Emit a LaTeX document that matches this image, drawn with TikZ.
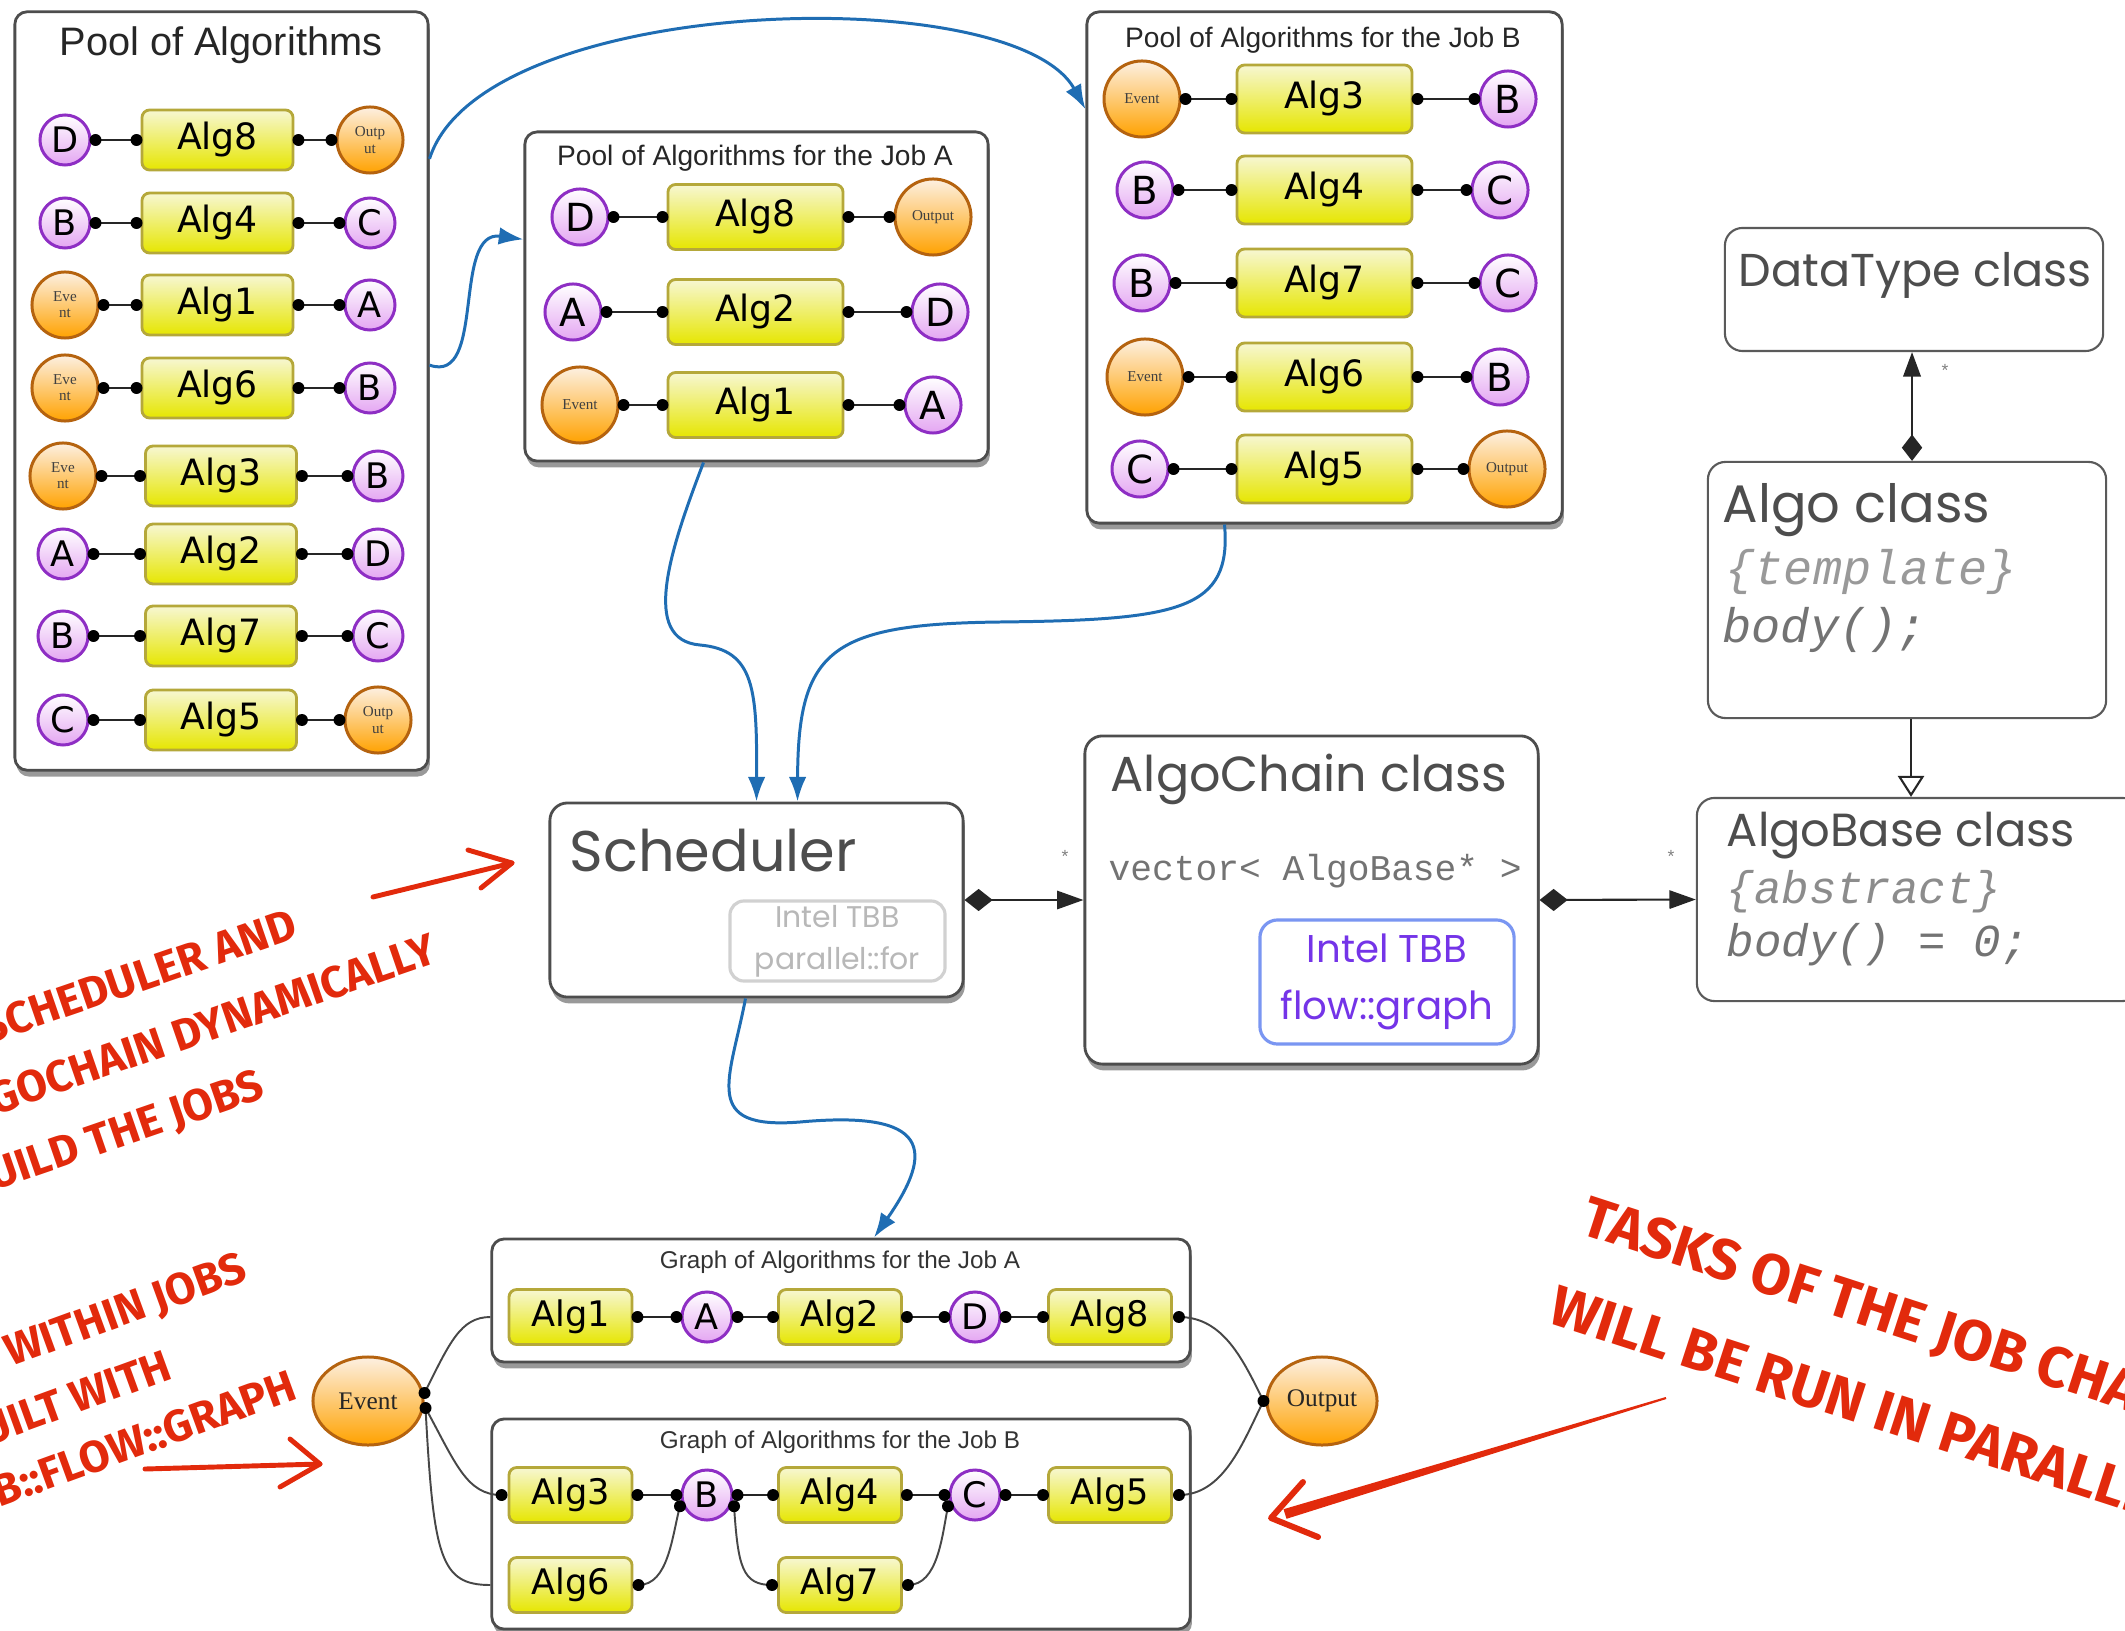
\documentclass[tikz,border=0pt]{standalone}
\usepackage{fontspec}
\setmainfont{Liberation Sans}
\newfontfamily\dejavu{DejaVu Sans}
\newfontfamily\lserif{Liberation Serif}
\newfontfamily\gothic{Poppins}
\newfontfamily\lmono{Liberation Mono}
\newfontfamily\hand{Fira Sans}
\usetikzlibrary{calc,shapes.geometric,arrows.meta,shadows}

\definecolor{boxgray}{HTML}{4D4D4D}
\definecolor{clsgray}{HTML}{5A5A5A}
\definecolor{algline}{HTML}{B5A83A}
\definecolor{algtop}{HTML}{F7F7D2}
\definecolor{algbot}{HTML}{E6E600}
\definecolor{purpline}{HTML}{8E2EC4}
\definecolor{lilac}{HTML}{E4A6F2}
\definecolor{orline}{HTML}{B5630F}
\definecolor{ortop}{HTML}{FDF0E2}
\definecolor{orbot}{HTML}{FFA200}
\definecolor{flowblue}{HTML}{1F6DB3}
\definecolor{tbbline}{HTML}{7A96F2}
\definecolor{tbbtext}{HTML}{7434E8}
\definecolor{notered}{HTML}{E22A0C}
\definecolor{texgray}{HTML}{4D4D4D}

% straight link between two nodes, with a black dot at each end
\newcommand\dotlink[2]{%
  \path ($(#1.east)+(4,0)$) coordinate (la) ($(#2.west)+(-4,0)$) coordinate (lb);
  \draw[stub] (la) -- (lb);
  \fill[black] (la) circle[radius=1.7pt] (lb) circle[radius=1.7pt];}

\tikzset{
  stub/.style={draw=black!85, line width=0.55pt},
  gconn/.style={draw=black!72, line width=0.55pt},
  panel/.style={draw=boxgray, line width=0.8pt, fill=white, rounded corners=3.5pt, inner sep=0pt,
     drop shadow={shadow xshift=0.5pt, shadow yshift=-1.8pt, opacity=0.4, fill=black}},
  classbox/.style={draw=clsgray, line width=0.6pt, fill=white, rounded corners=5pt, inner sep=0pt},
  lbl/.style={inner sep=0pt},
  alg/.style={draw=algline, line width=0.8pt, top color=algtop, bottom color=algbot,
     rounded corners=2.2pt, inner sep=0pt, font=\dejavu\fontsize{10.3}{12}\selectfont},
  algL/.style={alg, minimum width=1.51cm, minimum height=0.60cm},
  algA/.style={alg, minimum width=1.75cm, minimum height=0.65cm},
  algB/.style={alg, minimum width=1.75cm, minimum height=0.68cm},
  algG/.style={alg, minimum width=1.23cm, minimum height=0.55cm, font=\dejavu\fontsize{10}{12}\selectfont},
  dc/.style={circle, draw=purpline, line width=0.85pt, top color=white, bottom color=lilac,
     inner sep=0pt, font=\dejavu\fontsize{10}{11}\selectfont},
  lc/.style={dc, minimum size=0.50cm},
  lcA/.style={dc, minimum size=0.56cm, font=\dejavu\fontsize{11}{12}\selectfont},
  lcG/.style={dc, minimum size=0.50cm},
  oc/.style={circle, draw=orline, line width=0.85pt, top color=ortop, bottom color=orbot,
     inner sep=0pt, align=center, text=black!75, font=\lserif\fontsize{4.3}{4.6}\selectfont},
  ocL/.style={oc, minimum size=0.66cm},
  ocA/.style={oc, minimum size=0.76cm},
  ev/.style={ellipse, draw=orline, line width=0.85pt, top color=ortop, bottom color=orbot,
     inner sep=0pt, minimum width=1.10cm, minimum height=0.88cm, text=black!85,
     font=\lserif\fontsize{7.2}{8}\selectfont},
  flow/.style={draw=flowblue, line width=0.85pt, -{Latex[length=7pt,width=5pt]}},
  uml/.style={draw=black!85, line width=0.6pt},
  owns/.style={uml, {Diamond[length=8pt,width=6.3pt]}-{Triangle[length=7.5pt,width=5.2pt]}},
  mult/.style={inner sep=0pt, text=black!50, font=\fontsize{5}{6}\selectfont},
  note/.style={inner sep=0pt, text=notered, font=\hand\bfseries\fontsize{12.6}{15}\selectfont},
  bignote/.style={note, font=\hand\bfseries\fontsize{16.3}{19}\selectfont},
  redpen/.style={draw=notered, line width=1.4pt, line cap=round, line join=round},
}

\begin{document}
\begin{tikzpicture}[x=0.01cm, y=-0.01cm]
\useasboundingbox (0,0) rectangle (2125,1631);
\clip (0,0) rectangle (2125,1631);

% ---------------- pool of all algorithms ----------------
\node[panel, minimum width=4.13cm, minimum height=7.58cm] (pool) at (221.5,391) {};
\node[lbl, text=black!85, font=\fontsize{11.3}{13}\selectfont] (poolT) at (221,45) {Pool of Algorithms};
\foreach \n/\y/\ls/\lx/\lt/\ax/\at/\rs/\rx/\rt in {
  1/140/lc/65/D/217.5/Alg8/ocL/370/{Outp\\ut},
  2/223/lc/65/B/217.5/Alg4/lc/370/C,
  3/305/ocL/65/{Eve\\nt}/217.5/Alg1/lc/370/A,
  4/388/ocL/65/{Eve\\nt}/217.5/Alg6/lc/370/B,
  5/476/ocL/63/{Eve\\nt}/221/Alg3/lc/378/B,
  6/554/lc/63/A/221/Alg2/lc/378/D,
  7/636/lc/63/B/221/Alg7/lc/378/C,
  8/720/lc/63/C/221/Alg5/ocL/378/{Outp\\ut}}{
  \node[\ls] (pl\n) at (\lx,\y) {\lt};
  \node[algL] (pa\n) at (\ax,\y) {\at};
  \node[\rs] (pr\n) at (\rx,\y) {\rt};
  \dotlink{pl\n}{pa\n}
  \dotlink{pa\n}{pr\n}
}

% ---------------- pool for job A ----------------
\node[panel, minimum width=4.63cm, minimum height=3.29cm] (jobA) at (756.5,296.5) {};
\node[lbl, text=black!85, font=\fontsize{8}{10}\selectfont] (jobAT) at (755,158) {Pool of Algorithms for the Job A};
\foreach \n/\y/\ls/\lx/\lt/\at/\rs/\rx/\rt in {
  1/217/lcA/580/D/Alg8/ocA/933/Output,
  2/312/lcA/573/A/Alg2/lcA/940/D,
  3/405/ocA/580/Event/Alg1/lcA/933/A}{
  \node[\ls] (al\n) at (\lx,\y) {\lt};
  \node[algA] (aa\n) at (755.5,\y) {\at};
  \node[\rs] (ar\n) at (\rx,\y) {\rt};
  \dotlink{al\n}{aa\n}
  \dotlink{aa\n}{ar\n}
}

% ---------------- pool for job B ----------------
\node[panel, minimum width=4.75cm, minimum height=5.11cm] (jobB) at (1324.5,267.5) {};
\node[lbl, text=black!85, font=\fontsize{8}{10}\selectfont] (jobBT) at (1323,40) {Pool of Algorithms for the Job B};
\foreach \n/\y/\ls/\lx/\lt/\at/\rs/\rx/\rt in {
  1/99/ocA/1142/Event/Alg3/lcA/1508/B,
  2/190/lcA/1145/B/Alg4/lcA/1500/C,
  3/283/lcA/1142/B/Alg7/lcA/1508/C,
  4/377/ocA/1145/Event/Alg6/lcA/1500/B,
  5/469/lcA/1140/C/Alg5/ocA/1507/Output}{
  \node[\ls] (bl\n) at (\lx,\y) {\lt};
  \node[algB] (ba\n) at (1324.5,\y) {\at};
  \node[\rs] (br\n) at (\rx,\y) {\rt};
  \dotlink{bl\n}{ba\n}
  \dotlink{ba\n}{br\n}
}

% ---------------- scheduler and classes ----------------
\node[panel, rounded corners=5pt, minimum width=4.13cm, minimum height=1.94cm] (sched) at (756.5,900) {};
\node[lbl, anchor=west, text=texgray, font=\gothic\fontsize{16.3}{19}\selectfont] (schedT) at (569,851) {Scheduler};
\node[draw=black!18, line width=0.9pt, rounded corners=4pt, minimum width=2.15cm, minimum height=0.80cm,
      inner sep=0pt, align=center, text=black!28, font=\gothic\fontsize{8.5}{12}\selectfont] (tbbfor) at (837.5,941)
      {Intel TBB\\parallel::for};

\node[panel, rounded corners=5pt, minimum width=4.53cm, minimum height=3.28cm] (chain) at (1311.5,900) {};
\node[lbl, anchor=west, text=texgray, font=\gothic\fontsize{14}{16}\selectfont] (chainT) at (1110,779) {AlgoChain class};
\node[lbl, anchor=west, text=black!55, font=\lmono\fontsize{10.3}{12}\selectfont] (chainV) at (1108,871) {vector< AlgoBase* >};
\node[draw=tbbline, line width=0.9pt, rounded corners=5pt, minimum width=2.54cm, minimum height=1.24cm,
      inner sep=0pt, align=center, text=tbbtext, font=\gothic\fontsize{11}{16}\selectfont] (tbbflow) at (1387,982)
      {Intel TBB\\flow::graph};

\node[classbox, minimum width=4.43cm, minimum height=2.03cm] (abase) at (1918.5,899.5) {};
\node[lbl, anchor=west, text=texgray, font=\gothic\fontsize{13.2}{15}\selectfont] (abaseT) at (1726,836) {AlgoBase class};
\node[lbl, anchor=west, text=black!45, font=\lmono\itshape\fontsize{13}{15}\selectfont] (abaseA) at (1726,892) {\{abstract\}};
\node[lbl, anchor=west, text=black!55, font=\lmono\itshape\fontsize{13}{15}\selectfont] (abaseB) at (1726,945) {body() = 0;};

\node[classbox, minimum width=3.98cm, minimum height=2.56cm] (algo) at (1907,590) {};
\node[lbl, anchor=west, text=texgray, font=\gothic\fontsize{15}{17}\selectfont] (algoT) at (1722,510) {Algo class};
\node[lbl, anchor=west, text=black!40, font=\lmono\itshape\fontsize{13.8}{16}\selectfont] (algoA) at (1725,572) {\{template\}};
\node[lbl, anchor=west, text=black!55, font=\lmono\itshape\fontsize{13.8}{16}\selectfont] (algoB) at (1722,630) {body();};

\node[classbox, minimum width=3.78cm, minimum height=1.23cm] (dtype) at (1914,289.5) {};
\node[lbl, anchor=west, text=texgray, font=\gothic\fontsize{13.1}{16}\selectfont] (dtypeT) at (1738,275) {DataType class};

% composition and inheritance links
\draw[owns] (sched.east) -- (chain.west);
\draw[owns] (chain.east) -- (abase.west);
\coordinate (aup) at ($(algo.north)+(5,0)$);
\draw[uml, {Diamond[length=7.5pt,width=5.8pt]}-{Triangle[length=7pt,width=5pt]}] (aup) -- (aup |- dtype.south);
\coordinate (adn) at ($(algo.south)+(4,0)$);
\draw[uml, -{Triangle[open,length=6pt,width=7.5pt]}] (adn) -- (adn |- abase.north);
\node[mult] (m1) at (1065,856) {*};
\node[mult] (m2) at (1671,856) {*};
\node[mult] (m3) at (1945,370) {*};

% ---------------- job graphs ----------------
\node[panel, minimum width=6.98cm, minimum height=1.23cm] (gA) at (841,1300.5) {};
\node[lbl, text=black!80, font=\fontsize{6.9}{8}\selectfont] (gAT) at (840,1262) {Graph of Algorithms for the Job A};
\node[algG] (g1) at (570.5,1317) {Alg1};
\node[lcG] (gAa) at (707,1317) {A};
\node[algG] (g2) at (840,1317) {Alg2};
\node[lcG] (gAd) at (975,1317) {D};
\node[algG] (g8) at (1110,1317) {Alg8};
\dotlink{g1}{gAa}
\dotlink{gAa}{g2}
\dotlink{g2}{gAd}
\dotlink{gAd}{g8}

\node[panel, minimum width=6.98cm, minimum height=2.10cm] (gB) at (841,1524) {};
\node[lbl, text=black!80, font=\fontsize{6.9}{8}\selectfont] (gBT) at (840,1442) {Graph of Algorithms for the Job B};
\node[algG] (g3) at (570.5,1495) {Alg3};
\node[lcG] (gBb) at (707,1495) {B};
\node[algG] (g4) at (840,1495) {Alg4};
\node[lcG] (gBc) at (975,1495) {C};
\node[algG] (g5) at (1110,1495) {Alg5};
\node[algG] (g6) at (570.5,1585) {Alg6};
\node[algG] (g7) at (840,1585) {Alg7};
\dotlink{g3}{gBb}
\dotlink{gBb}{g4}
\dotlink{g4}{gBc}
\dotlink{gBc}{g5}

\coordinate (g6r) at ($(g6.east)+(5,0)$);
\coordinate (bIn) at ($(gBb.205)+(-3,0)$);
\coordinate (bOut) at ($(gBb.335)+(3,0)$);
\coordinate (g7l) at ($(g7.west)+(-5,0)$);
\coordinate (g7r) at ($(g7.east)+(5,0)$);
\coordinate (cIn) at ($(gBc.205)+(-3,0)$);
\draw[gconn] (g6r) .. controls +(30,0) and +(-8,30) .. (bIn);
\draw[gconn] (bOut) .. controls +(4,60) and +(-30,0) .. (g7l);
\draw[gconn] (g7r) .. controls +(30,0) and +(-6,30) .. (cIn);
\fill[black] (g6r) circle[radius=1.7pt] (bIn) circle[radius=1.7pt] (bOut) circle[radius=1.7pt]
             (g7l) circle[radius=1.7pt] (g7r) circle[radius=1.7pt] (cIn) circle[radius=1.7pt];

\node[ev] (ev) at (368,1401) {Event};
\node[ev] (out) at (1322,1401) {Output};
\coordinate (e1) at ($(ev.east)+(0,-8)$);
\coordinate (e2) at ($(ev.east)+(1,7)$);
\coordinate (gAin) at (gA.west |- g1.west);
\coordinate (gBin) at (gB.west |- g6.west);
\coordinate (g3l) at ($(g3.west)+(-6,0)$);
\coordinate (g8r) at ($(g8.east)+(6,0)$);
\coordinate (g5r) at ($(g5.east)+(6,0)$);
\coordinate (ol) at ($(out.west)+(-2,0)$);
\draw[gconn] (e1) .. controls +(25,-50) and +(-30,0) .. (gAin);
\draw[gconn] (e2) .. controls +(30,55) and +(-35,0) .. (g3l);
\draw[gconn] (e2) .. controls +(8,150) and +(-50,0) .. (gBin);
\draw[gconn] (g8r) .. controls +(45,0) and +(-20,-40) .. (ol);
\draw[gconn] (g5r) .. controls +(45,0) and +(-20,40) .. (ol);
\fill[black] (e1) circle[radius=1.7pt] (e2) circle[radius=1.7pt] (g3l) circle[radius=1.7pt]
             (g8r) circle[radius=1.7pt] (g5r) circle[radius=1.7pt] (ol) circle[radius=1.7pt];

% ---------------- data flow (blue) ----------------
\coordinate (f1a) at ($(pool.north east)!0.195!(pool.south east)$);
\coordinate (f1b) at ($(jobB.north west)!0.192!(jobB.south west)$);
\draw[flow] (f1a) .. controls +(52,-165) and +(-72,-130) .. (f1b);
\coordinate (f2a) at ($(pool.north east)!0.466!(pool.south east)$);
\coordinate (f2b) at ($(jobA.north west)!0.328!(jobA.south west)$);
\draw[flow] (f2a) .. controls +(57,20) and +(-72,-10) .. (f2b);
\coordinate (f3a) at ($(jobA.south)+(-53,0)$);
\coordinate (f3m) at (700,645);
\draw[flow] (f3a) .. controls (670,550) and (640,640) .. (f3m) .. controls (755,650) and (757,690) .. (sched.north);
\coordinate (f4a) at ($(jobB.south)+(-100,0)$);
\coordinate (f4m) at (1000,622);
\coordinate (f4b) at ($(sched.north)+(41,0)$);
\draw[flow] (f4a) .. controls (1232,610) and (1180,620) .. (f4m) .. controls (830,624) and (798,650) .. (f4b);
\coordinate (f5a) at ($(sched.south)+(-11,0)$);
\coordinate (f5m) at (800,1122);
\coordinate (f5b) at ($(gA.north)+(33,0)$);
\draw[flow] (f5a) .. controls (730,1080) and (700,1130) .. (f5m) .. controls (930,1110) and (935,1150) .. (f5b);

% ---------------- handwritten notes ----------------
\node[note, rotate=19, anchor=base east] (n1a) at (300,937) {SCHEDULER AND};
\node[note, rotate=19, anchor=base east] (n1b) at (440,962) {ALGOCHAIN DYNAMICALLY};
\node[note, rotate=19, anchor=base east] (n1c) at (267,1097) {BUILD THE JOBS};
\node[note, rotate=20, anchor=base east] (n2a) at (250,1280) {WITHIN JOBS};
\node[note, rotate=20, anchor=base east] (n2b) at (175,1378) {BUILT WITH};
\node[note, rotate=20, anchor=base east] (n2c) at (300,1398) {TBB::FLOW::GRAPH};
\node[bignote, rotate=-18, anchor=base west] (n3a) at (1578,1233) {TASKS OF THE JOB CHAIN};
\node[bignote, rotate=-18, anchor=base west] (n3b) at (1546,1322) {WILL BE RUN IN PARALLEL};

\coordinate (r1s) at (373,897);
\coordinate (r1t) at (512,863);
\draw[redpen] (r1s) -- (r1t);
\draw[redpen] (468,850) -- (r1t) -- (481,888);
\coordinate (r2s) at (145,1469);
\coordinate (r2t) at (320,1464);
\draw[redpen] (r2s) -- (r2t);
\draw[redpen] (290,1439) -- (r2t) -- (280,1487);
\coordinate (r3s) at (1666,1398);
\coordinate (r3t) at (1271,1518);
\fill[notered] (1666.3,1399) -- (1665.7,1397) -- (1283.5,1509.2) -- (1286.5,1518.8) -- cycle;
\draw[redpen, line width=1.7pt] (1303,1482) -- (r3t) -- (1318,1537);
\end{tikzpicture}
\end{document}
